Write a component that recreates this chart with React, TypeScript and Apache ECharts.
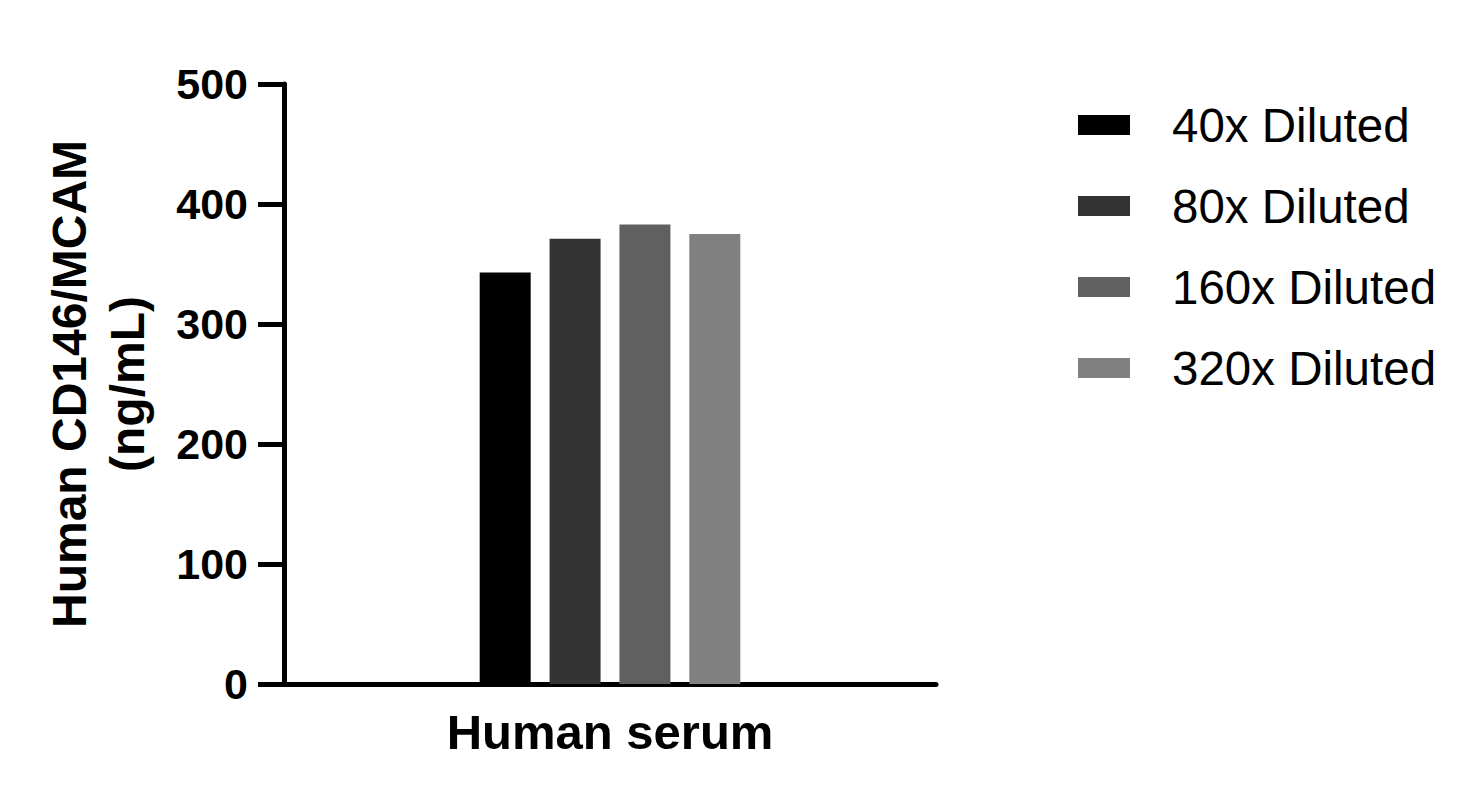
import * as echarts from 'echarts';
import { useEffect, useRef } from 'react';

const categories = ['Human serum'];
const seriesNames = ['40x Diluted', '80x Diluted', '160x Diluted', '320x Diluted'];
const seriesValues = [[343], [371], [383], [375]];
const seriesColors = ['#000000', '#333333', '#606060', '#808080'];
const yTicks = [0, 100, 200, 300, 400, 500];

const FONT = '"Liberation Sans", Arial, sans-serif';

export default function App() {
  const chartRef = useRef<HTMLDivElement>(null);

  useEffect(() => {
    if (!chartRef.current) return;
    const chart = echarts.init(chartRef.current, null, { renderer: 'svg' });

    const option = {
      animation: false,
      backgroundColor: '#ffffff',
      textStyle: { fontFamily: FONT },
      grid: { left: 284, right: 545, top: 84, bottom: 120 },
      legend: {
        orient: 'vertical',
        left: 1073,
        top: 96,
        icon: 'rect',
        itemWidth: 52,
        itemHeight: 20,
        itemGap: 33,
        data: seriesNames,
        textStyle: {
          fontFamily: FONT,
          fontSize: 47.5,
          lineHeight: 48,
          color: '#000',
          padding: [0, 0, 0, 37],
        },
      },
      xAxis: {
        type: 'category',
        data: categories,
        axisLine: { lineStyle: { color: '#000', width: 5 } },
        axisTick: { show: false },
        axisLabel: {
          color: '#000',
          fontFamily: FONT,
          fontSize: 49,
          fontWeight: 'bold',
          margin: 23,
        },
      },
      yAxis: {
        type: 'value',
        min: yTicks[0],
        max: yTicks[yTicks.length - 1],
        interval: 100,
        splitLine: { show: false },
        axisLine: { show: true, lineStyle: { color: '#000', width: 5 } },
        axisTick: { show: true, length: 26, lineStyle: { color: '#000', width: 5 } },
        axisLabel: {
          color: '#000',
          fontFamily: FONT,
          fontSize: 43,
          fontWeight: 'bold',
          margin: 36,
        },
        name: 'Human CD146/MCAM\n(ng/mL)',
        nameLocation: 'middle',
        nameRotate: 90,
        nameGap: 128,
        nameTextStyle: {
          color: '#000',
          fontFamily: FONT,
          fontSize: 48,
          fontWeight: 'bold',
          lineHeight: 58,
        },
      },
      series: seriesNames.map((name, i) => ({
        name,
        type: 'bar',
        data: seriesValues[i],
        barWidth: 51,
        barGap: '37%',
        itemStyle: { color: seriesColors[i] },
      })),
    };

    chart.setOption(option);
    return () => {
      chart.dispose();
    };
  }, []);

  return (
    <div
      ref={chartRef}
      style={{ position: 'fixed', left: 0, top: 0, width: '1481px', height: '804px' }}
    />
  );
}
